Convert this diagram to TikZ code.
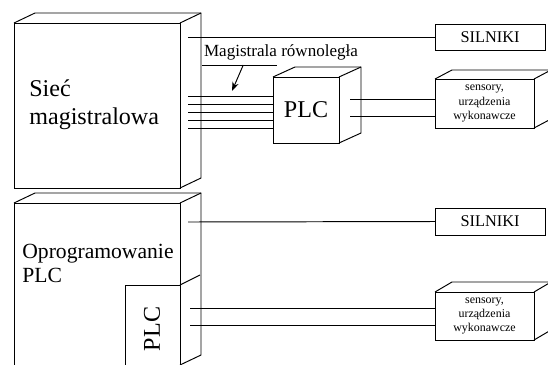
\documentclass[tikz,border=0pt]{standalone}
\usepackage{fontspec}
\setmainfont{Liberation Serif}
\usetikzlibrary{calc,arrows.meta}

% top and side faces behind a box node
\newcommand{\depth}[3]{%
  \draw (#1.north west) -- ++(#2,#3) -- ($(#1.north east)+(#2,#3)$)
        -- ($(#1.south east)+(#2,#3)$) -- (#1.south east);
  \draw (#1.north east) -- ++(#2,#3);
}

\begin{document}
\begin{tikzpicture}[x=0.2mm, y=-0.2mm, line width=0.55pt,
    box/.style={draw, rectangle, inner sep=0pt, outer sep=0pt, align=center},
    big/.style={font=\fontsize{13.7}{16}\selectfont},
    small/.style={font=\fontsize{6.8}{8}\selectfont}]
    \useasboundingbox (0,0) rectangle (548,364);
    \clip (0,0) rectangle (548,364);

    % upper part
    \node[box, minimum width=33.2mm, minimum height=33mm] (siec) at (97,105.5) {};
    \depth{siec}{21}{-10}
    \node[big, anchor=base west] (siectxt) at (23,96) {Sieć};
    \node[big, anchor=base west] (magtxt) at (23,124) {magistralowa};

    \node[box, big, minimum width=13.2mm, minimum height=13.2mm] (plcA) at (306,110) {PLC};
    \depth{plcA}{22}{-10}

    \node[box, minimum width=22mm, minimum height=5.2mm,
          font=\fontsize{9.3}{11}\selectfont] (silA) at (490,37) {SILNIKI};
    \node[box, small, minimum width=19.8mm, minimum height=9.8mm] (sensA) at (484.5,103.5)
        {sensory,\\urządzenia\\wykonawcze};
    \depth{sensA}{17}{-9}

    \coordinate (sA) at (188,37);
    \draw (sA) -- (silA.west);
    \foreach \y in {96,104,112,120,128} {
        \coordinate (b\y) at (188,\y);
        \draw (b\y) -- (b\y -| plcA.west);
    }
    \foreach \y in {99,116} {
        \coordinate (p\y) at (350,\y);
        \draw (p\y) -- (p\y -| sensA.west);
    }

    % bus label with leader
    \node[font=\fontsize{9.7}{11}\selectfont] (bus) at (281,52) {Magistrala równoległa};
    \coordinate (busL) at (202,65);
    \coordinate (busR) at (277,65);
    \coordinate (busT) at (232,91);
    \draw (busL) -- (busR);
    \draw[-{Stealth[length=1.8mm, width=1.3mm]}] ($(busL)!0.55!(busR)$) -- (busT);

    % lower part
    \node[box, minimum width=33.2mm, minimum height=32.4mm] (oprog) at (97,284) {};
    \depth{oprog}{21}{-10}
    \node[anchor=base west, font=\fontsize{12.3}{15}\selectfont] (oprogtxt) at (16,258) {Oprogramowanie};
    \node[anchor=base west, font=\fontsize{12.3}{15}\selectfont] (plctxt) at (16,282) {PLC};

    \node[box, minimum width=11mm, minimum height=16mm] (plcB) at (152.5,325) {};
    \draw (plcB.north east) -- ++(20,-10);
    \node[big, rotate=90] (plcBtxt) at (152,329) {PLC};

    \node[box, minimum width=22mm, minimum height=5.4mm,
          font=\fontsize{9.3}{11}\selectfont] (silB) at (490,221.5) {SILNIKI};
    \node[box, small, minimum width=19.8mm, minimum height=9.6mm] (sensB) at (484.5,316)
        {sensory,\\urządzenia\\wykonawcze};
    \depth{sensB}{17}{-10}

    \coordinate (sB) at (188,222);
    \draw (sB) -- (silB.west);
    \foreach \y in {308,325} {
        \coordinate (q\y) at (190,\y);
        \draw (q\y) -- (q\y -| sensB.west);
    }
\end{tikzpicture}
\end{document}
